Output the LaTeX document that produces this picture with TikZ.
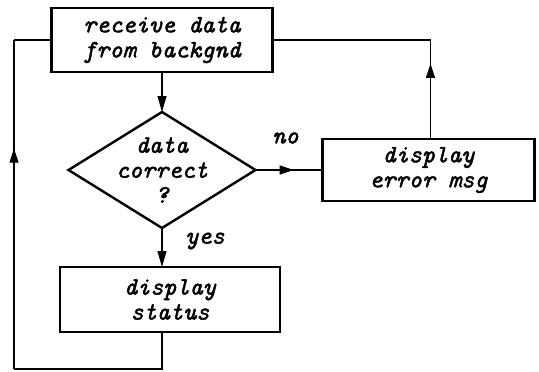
\documentclass[tikz,border=0pt]{standalone}
\usepackage{fontspec}
\newfontfamily\chartface{Latin Modern Mono}[FakeBold=1.8]
\usetikzlibrary{
	positioning,
	calc,
	arrows.meta,
	shapes.geometric,
	decorations.markings
}

\begin{document}
\begin{tikzpicture}[
			x=1pt, y=1pt,
			framed/.style={rectangle, draw=black, line width=2.4pt, inner sep=0, outer sep=0, align=center, font=\chartfont},
			decision/.style={diamond, draw=black, line width=2.4pt, inner sep=0, outer sep=0, minimum width=187pt, minimum height=116pt},
			plain/.style={inner sep=0, align=center, font=\chartfont},
			line/.style={line width=1.1pt},
			arrow/.style={line width=1.1pt, -{Triangle[width=9pt,length=16pt]}},
			midarrow/.style={postaction={decorate, decoration={markings,
				mark=at position #1 with {\arrow{Triangle[width=9pt,length=14pt]}}}}}]
			\def\chartfont{\chartface\itshape\fontsize{25}{25}\selectfont}

			\useasboundingbox (0,0) rectangle (539,-372);

			\node[framed, minimum width=221pt, minimum height=64pt] (receive) at (162,-40) {receive data\\from backgnd};
			\node[decision, below=40pt of receive] (check) {};
			\node[plain] (checktxt) at (check.center) {data\\correct\\?};
			\node[framed, minimum width=212pt, minimum height=62pt, right=67pt of check] (error) {display\\error msg};
			\node[framed, minimum width=220pt, minimum height=65pt, below=39pt of check, xshift=8pt] (status) {display\\status};

			\node[plain] (no) at ([xshift=30pt, yshift=32pt]check.east) {no};
			\node[plain] (yes) at ([xshift=43pt, yshift=-13pt]check.south) {yes};

			% forward flow
			\draw[arrow] (receive.south) -- (check.north);
			\draw[arrow] (check.south) -- (check.south |- status.north);
			\draw[line, midarrow=0.57] (check.east) -- (error.west);

			% loop back from status
			\coordinate (loopbr) at ([yshift=-37pt]check.south |- status.south);
			\coordinate (loopbl) at (14,-369);
			\coordinate (looptl) at (loopbl |- receive.west);
			\draw[line] (check.south |- status.south) -- (loopbr) -- (loopbl);
			\draw[line, midarrow=0.67] (loopbl) -- (looptl);
			\draw[line] (looptl) -- (receive.west);

			% loop back from error
			\coordinate (errtop) at ([xshift=2pt]error.north);
			\coordinate (looptr) at (errtop |- receive.east);
			\draw[line, midarrow=0.76] (errtop) -- (looptr);
			\draw[line] (looptr) -- (receive.east);
		\end{tikzpicture}
\end{document}
